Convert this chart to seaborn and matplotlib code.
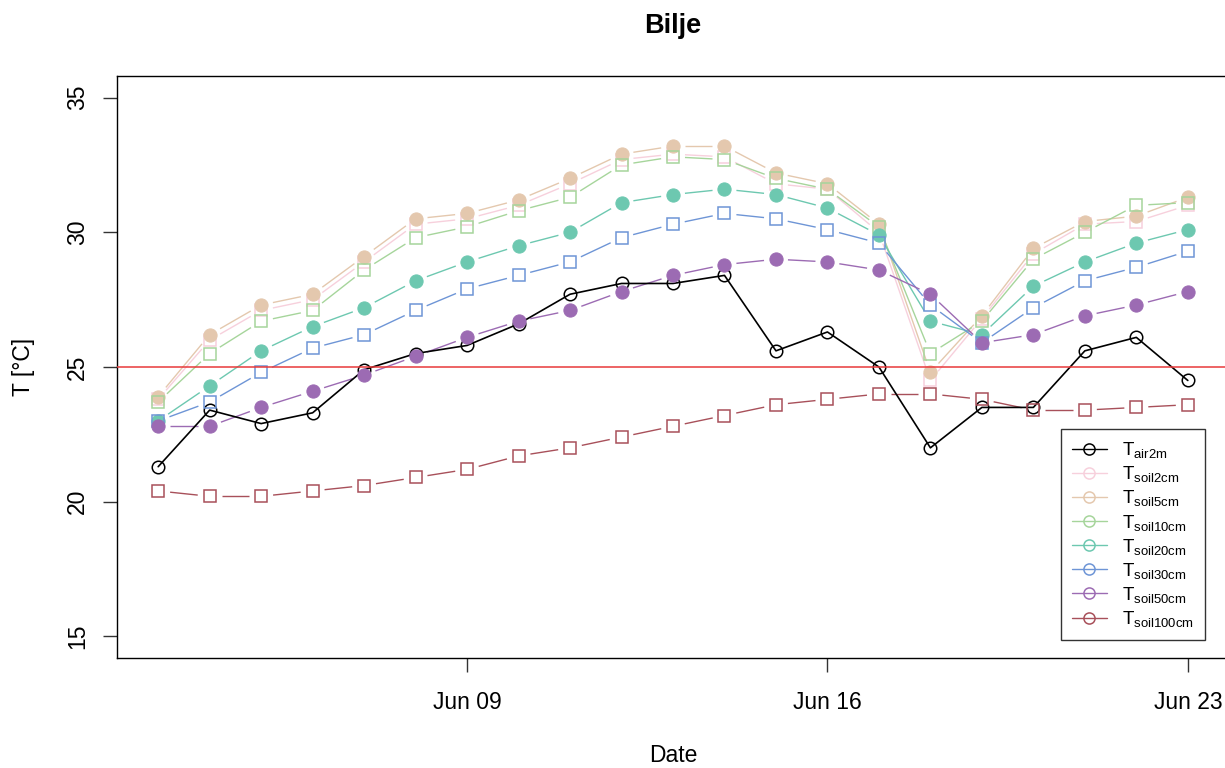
import matplotlib
matplotlib.use("Agg")
import matplotlib.dates as mdates
import matplotlib.pyplot as plt
import numpy as np
import pandas as pd
import seaborn as sns
from matplotlib.collections import LineCollection
from matplotlib.lines import Line2D

# --- data ---
dates = pd.date_range("2021-06-03", "2021-06-23", freq="D")

t_air2m = [21.3, 23.4, 22.9, 23.3, 24.9, 25.5, 25.8, 26.6, 27.7, 28.1, 28.1,
           28.4, 25.6, 26.3, 25.0, 22.0, 23.5, 23.5, 25.6, 26.1, 24.5]
t_soil2 = [23.8, 26.0, 27.1, 27.5, 28.9, 30.3, 30.5, 31.0, 31.8, 32.7, 32.9,
           32.8, 31.8, 31.6, 30.0, 24.5, 26.8, 29.2, 30.3, 30.4, 31.0]
t_soil5 = [23.9, 26.2, 27.3, 27.7, 29.1, 30.5, 30.7, 31.2, 32.0, 32.9, 33.2,
           33.2, 32.2, 31.8, 30.3, 24.8, 26.9, 29.4, 30.4, 30.6, 31.3]
t_soil10 = [23.7, 25.5, 26.7, 27.1, 28.6, 29.8, 30.2, 30.8, 31.3, 32.5, 32.8,
            32.7, 32.0, 31.6, 30.2, 25.5, 26.7, 29.0, 30.0, 31.0, 31.1]
t_soil20 = [23.0, 24.3, 25.6, 26.5, 27.2, 28.2, 28.9, 29.5, 30.0, 31.1, 31.4,
            31.6, 31.4, 30.9, 29.9, 26.7, 26.2, 28.0, 28.9, 29.6, 30.1]
t_soil30 = [23.0, 23.7, 24.8, 25.7, 26.2, 27.1, 27.9, 28.4, 28.9, 29.8, 30.3,
            30.7, 30.5, 30.1, 29.6, 27.3, 25.9, 27.2, 28.2, 28.7, 29.3]
t_soil50 = [22.8, 22.8, 23.5, 24.1, 24.7, 25.4, 26.1, 26.7, 27.1, 27.8, 28.4,
            28.8, 29.0, 28.9, 28.6, 27.7, 25.9, 26.2, 26.9, 27.3, 27.8]
t_soil100 = [20.4, 20.2, 20.2, 20.4, 20.6, 20.9, 21.2, 21.7, 22.0, 22.4, 22.8,
             23.2, 23.6, 23.8, 24.0, 24.0, 23.8, 23.4, 23.4, 23.5, 23.6]

threshold = 25
series_names = ["air2m", "soil2cm", "soil5cm", "soil10cm", "soil20cm",
                "soil30cm", "soil50cm", "soil100cm"]
series_values = [t_air2m, t_soil2, t_soil5, t_soil10, t_soil20,
                 t_soil30, t_soil50, t_soil100]
colors = ["black", "#F7D0DC", "#E4C8AE", "#A6D59B", "#6DC8B0",
          "#6E95D6", "#9C6BB3", "#A8505A"]
markers = ["o", "s", "o", "s", "o", "s", "o", "s"]
filled = [False, False, True, False, True, False, True, False]

sns.set_style("white")
plt.rcParams["font.family"] = ["Liberation Sans", "DejaVu Sans"]
plt.rcParams["mathtext.fontset"] = "custom"
plt.rcParams["mathtext.rm"] = "Liberation Sans"
plt.rcParams["text.color"] = "black"
plt.rcParams["axes.labelcolor"] = "black"


def draw_gapped(ax, x, y, color, gap_px=12, lw=1.0):
    # R type="b": segments stop short of each point
    pts = ax.transData.transform(np.column_stack([x, y]))
    segs = []
    for p0, p1 in zip(pts[:-1], pts[1:]):
        d = p1 - p0
        length = np.hypot(*d)
        if length <= 2 * gap_px:
            continue
        u = d / length
        a = ax.transData.inverted().transform(p0 + u * gap_px)
        b = ax.transData.inverted().transform(p1 - u * gap_px)
        segs.append([a, b])
    ax.add_collection(LineCollection(segs, colors=color, linewidths=lw))


fig = plt.figure(figsize=(12.25, 7.68), dpi=100)
ax = fig.add_axes([117 / 1225, 1 - 658 / 768, 1112 / 1225, 582 / 768])

xnum = mdates.date2num(dates)
ax.set_xlim(xnum[0] - 0.8, xnum[-1] + 0.8)
ax.set_ylim(14.2, 35.8)

df = pd.DataFrame({"date": dates, "air": t_air2m})
sns.lineplot(data=df, x="date", y="air", ax=ax, color="black", lw=1.2,
             marker="o", markersize=9, markerfacecolor="none",
             markeredgecolor="black", markeredgewidth=1.1, zorder=3)

for name, vals, col, mk, fl in zip(series_names[1:], series_values[1:],
                                   colors[1:], markers[1:], filled[1:]):
    draw_gapped(ax, xnum, vals, col)
    sdf = pd.DataFrame({"date": dates, "T": vals})
    if fl:
        sns.lineplot(data=sdf, x="date", y="T", ax=ax, linestyle="",
                     marker=mk, markersize=9.5, color=col,
                     markeredgecolor=col, zorder=3)
    else:
        sns.lineplot(data=sdf, x="date", y="T", ax=ax, linestyle="",
                     marker=mk, markersize=8, color=col,
                     markerfacecolor="none", markeredgecolor=col,
                     markeredgewidth=1.1, zorder=3)

ax.axhline(threshold, color="#E8393A", lw=1.1, zorder=4)

ax.set_xlim(xnum[0] - 0.8, xnum[-1] + 0.8)
ax.set_ylim(14.2, 35.8)
ax.set_xticks(mdates.date2num(pd.to_datetime(["2021-06-09", "2021-06-16", "2021-06-23"])))
ax.xaxis.set_major_formatter(mdates.DateFormatter("%b %d"))
ax.set_yticks([15, 20, 25, 30, 35])
ax.tick_params(axis="both", direction="out", length=10, width=1,
               color="#333333", labelsize=16.5, labelcolor="black",
               bottom=True, left=True)
ax.tick_params(axis="x", pad=13.5)
ax.tick_params(axis="y", pad=10)
for lab in ax.get_yticklabels():
    lab.set_rotation(90)
    lab.set_va("center")

for sp in ax.spines.values():
    sp.set_visible(True)
    sp.set_color("black")
    sp.set_linewidth(1.0)

ax.set_xlabel("Date", fontsize=16.5)
ax.set_ylabel("T [°C]", fontsize=16.5)
ax.xaxis.set_label_coords(0.5, -0.148)
ax.yaxis.set_label_coords(-0.074, 0.5)
ax.set_title("Bilje", fontsize=19.5, fontweight="bold", pad=31, color="black")

handles = [Line2D([], [], color=c, lw=1.0, marker="o", markersize=8,
                  markerfacecolor="none", markeredgecolor=c, markeredgewidth=1.1)
           for c in colors]
labels = [r"$\mathregular{T_{%s}}$" % n for n in series_names]
leg = ax.legend(handles, labels, loc="lower right",
                bbox_to_anchor=(0.9784, 0.031), borderaxespad=0,
                fontsize=13.5, frameon=True, fancybox=False,
                handlelength=1.9, handletextpad=0.8, labelspacing=0.22,
                borderpad=0.58)
leg.get_frame().set_edgecolor("black")
leg.get_frame().set_linewidth(1.0)

fig.savefig("out.png", dpi=100)
